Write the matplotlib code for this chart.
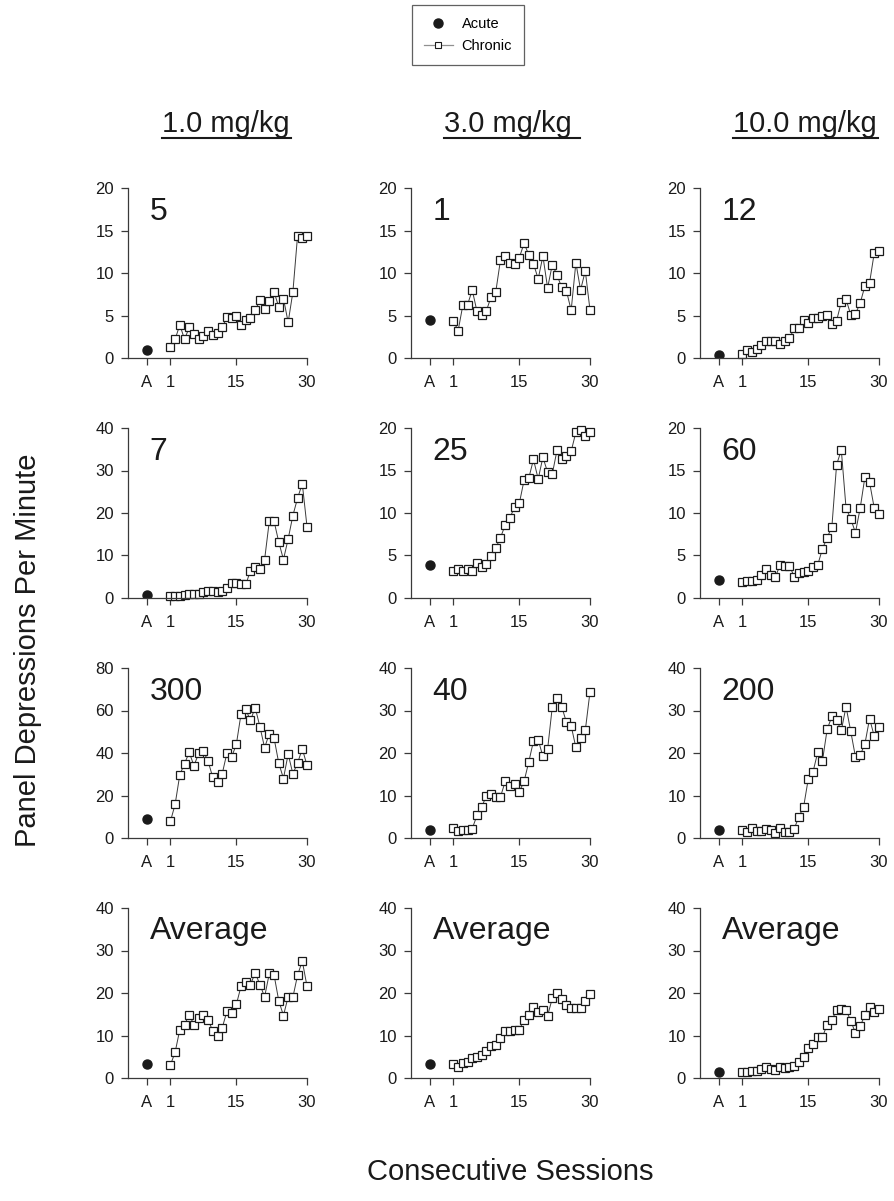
import numpy as np
import matplotlib.pyplot as plt
from matplotlib.lines import Line2D

plt.rcParams['font.family'] = ['Liberation Sans', 'DejaVu Sans']

# sessions and tick labels
sessions = np.arange(1, 31)
acute_pos = -4
tick_pos = [acute_pos, 1, 15, 30]
tick_labels = ['A', '1', '15', '30']

doses = ['1.0 mg/kg', '3.0 mg/kg', '10.0 mg/kg']
panel_names = [['5', '7', '300', 'Average'],
               ['1', '25', '40', 'Average'],
               ['12', '60', '200', 'Average']]

# acute values per dose column (rows top to bottom)
acute_1mg = [0.9, 0.7, 8.75, 3.3]
acute_3mg = [4.5, 3.85, 1.95, 3.4]
acute_10mg = [0.4, 2.15, 1.95, 1.5]

# chronic sessions 1-30, 1.0 mg/kg
chronic_s5 = [1.25, 2.2, 3.9, 2.2, 3.6, 2.85, 2.25, 2.6, 3.2, 2.65, 2.9, 3.6, 4.8, 4.7, 4.9,
              3.9, 4.5, 4.7, 5.6, 6.8, 5.8, 6.75, 7.8, 6.0, 7.0, 4.2, 7.75, 14.4, 14.1, 14.3]
chronic_s7 = [0.55, 0.4, 0.5, 0.7, 0.85, 0.85, 0.85, 1.4, 1.75, 1.6, 1.4, 1.75, 2.45, 3.55, 3.45,
              3.2, 3.2, 6.4, 7.4, 6.8, 9.05, 18.1, 18.1, 13.2, 9.05, 13.9, 19.4, 23.5, 26.9, 16.8]
chronic_s300 = [7.8, 15.8, 29.8, 35.0, 40.3, 34.0, 39.8, 40.9, 36.1, 28.5, 26.3, 30.2, 40.0, 38.1, 44.1,
                58.4, 60.5, 55.3, 61.4, 52.4, 42.5, 49.1, 47.1, 35.3, 28.0, 39.5, 30.2, 35.3, 42.0, 34.2]
chronic_avg1 = [3.05, 6.05, 11.4, 12.5, 14.9, 12.5, 14.1, 14.9, 13.6, 11.1, 10.0, 11.8, 15.7, 15.4, 17.3,
                21.6, 22.6, 22.0, 24.7, 22.0, 19.1, 24.6, 24.3, 18.2, 14.7, 19.1, 19.0, 24.2, 27.5, 21.6]

# chronic, 3.0 mg/kg
chronic_s1 = [4.4, 3.2, 6.2, 6.25, 8.0, 5.5, 5.1, 5.55, 7.2, 7.8, 11.55, 11.95, 11.2, 11.1, 11.8,
              13.5, 12.15, 11.1, 9.3, 12.0, 8.25, 11.0, 9.75, 8.3, 7.9, 5.6, 11.2, 8.0, 10.25, 5.65]
chronic_s25 = [3.15, 3.4, 3.2, 3.4, 3.2, 4.1, 3.6, 4.0, 4.9, 5.9, 7.1, 8.6, 9.45, 10.7, 11.15,
               13.85, 14.1, 16.3, 14.0, 16.55, 14.8, 14.6, 17.4, 16.3, 16.7, 17.25, 19.5, 19.8, 19.05, 19.5]
chronic_s40 = [2.25, 1.65, 1.9, 1.95, 2.2, 5.3, 7.2, 10.0, 10.4, 9.7, 9.7, 13.3, 12.3, 12.7, 10.9,
               13.3, 17.9, 22.8, 23.1, 19.2, 20.9, 30.9, 33.0, 30.9, 27.2, 26.4, 21.3, 23.5, 25.3, 34.4]
chronic_avg3 = [3.3, 2.7, 3.6, 3.85, 4.6, 5.0, 5.3, 6.4, 7.5, 7.75, 9.4, 11.1, 11.1, 11.4, 11.4,
                13.65, 14.75, 16.6, 15.5, 15.9, 14.7, 18.75, 20.1, 18.5, 17.2, 16.4, 16.5, 16.4, 18.1, 19.8]

# chronic, 10.0 mg/kg
chronic_s12 = [0.5, 1.0, 0.7, 1.1, 1.55, 1.95, 1.95, 2.05, 1.7, 2.0, 2.3, 3.5, 3.5, 4.45, 4.1,
               4.7, 4.7, 5.0, 5.05, 4.0, 4.4, 6.6, 6.9, 5.1, 5.2, 6.45, 8.45, 8.85, 12.4, 12.6]
chronic_s60 = [1.9, 1.95, 2.0, 2.15, 2.7, 3.4, 2.65, 2.5, 3.85, 3.8, 3.8, 2.5, 2.95, 3.0, 3.2,
               3.6, 3.9, 5.8, 7.1, 8.4, 15.7, 17.4, 10.6, 9.3, 7.7, 10.55, 14.2, 13.6, 10.55, 9.85]
chronic_s200 = [1.95, 1.3, 2.25, 1.55, 1.55, 2.1, 1.8, 1.1, 2.25, 1.3, 1.5, 2.2, 5.0, 7.35, 14.0,
                15.6, 20.2, 18.2, 25.6, 28.6, 27.7, 25.3, 30.9, 25.1, 19.1, 19.5, 22.1, 28.1, 23.9, 26.2]
chronic_avg10 = [1.5, 1.35, 1.65, 1.55, 2.1, 2.6, 2.2, 1.95, 2.5, 2.45, 2.5, 2.8, 3.85, 4.95, 7.15,
                 7.9, 9.65, 9.7, 12.55, 13.7, 15.9, 16.3, 16.1, 13.4, 10.65, 12.15, 14.8, 16.8, 15.6, 16.2]

# y axis ranges (max, step)
ylims = [[(20, 5), (40, 10), (80, 20), (40, 10)],
         [(20, 5), (20, 5), (40, 10), (40, 10)],
         [(20, 5), (20, 5), (40, 10), (40, 10)]]

acute = [acute_1mg, acute_3mg, acute_10mg]
chronic = [[chronic_s5, chronic_s7, chronic_s300, chronic_avg1],
           [chronic_s1, chronic_s25, chronic_s40, chronic_avg3],
           [chronic_s12, chronic_s60, chronic_s200, chronic_avg10]]

W, H = 895, 1201
fig = plt.figure(figsize=(W / 100, H / 100), dpi=100)

col_left = [128, 411, 700]
row_top = [188, 428, 668, 908]
ax_w, ax_h = 179, 170
ink = '#1a1a1a'
grey = '#3a3a3a'

for c in range(3):
    for r in range(4):
        ax = fig.add_axes([col_left[c] / W, 1 - (row_top[r] + ax_h) / H, ax_w / W, ax_h / H])
        ax.plot(sessions, chronic[c][r], '-', color=grey, lw=0.7,
                marker='s', ms=6.3, mfc='white', mec=ink, mew=0.9, clip_on=False)
        ax.plot([acute_pos], [acute[c][r]], 'o', color=ink, ms=6.5)
        ymax, step = ylims[c][r]
        ax.set_ylim(0, ymax)
        ax.set_yticks(np.arange(0, ymax + 1, step))
        ax.set_xlim(-8, 30)
        ax.set_xticks(tick_pos)
        ax.set_xticklabels(tick_labels)
        for s in ['top', 'right']:
            ax.spines[s].set_visible(False)
        for s in ['left', 'bottom']:
            ax.spines[s].set_color(grey)
            ax.spines[s].set_linewidth(0.9)
        ax.tick_params(axis='both', direction='out', length=5, width=0.9, color=grey,
                       labelsize=12, labelcolor=ink)
        ax.tick_params(axis='x', pad=7)
        ax.tick_params(axis='y', pad=5)
        ax.text(0.12, 0.95, panel_names[c][r], transform=ax.transAxes, fontsize=23,
                va='top', ha='left', color=ink)

# dose titles, underlined
renderer = fig.canvas.get_renderer()
title_x = [226, 508, 805]
for c in range(3):
    t = fig.text(title_x[c] / W, 1 - 132 / H, doses[c], fontsize=21, ha='center',
                 va='baseline', color=ink)
    bb = t.get_window_extent(renderer)
    x0 = bb.x0 / W
    x1 = (bb.x1 + (8 if c == 1 else 1)) / W
    fig.add_artist(Line2D([x0, x1], [1 - 138 / H, 1 - 138 / H], color=ink, lw=1.5,
                          transform=fig.transFigure))

# axis labels
fig.text(28 / W, 1 - 650 / H, 'Panel Depressions Per Minute', rotation=90, fontsize=21,
         ha='center', va='center', color=ink)
fig.text(510 / W, 1 - 1172 / H, 'Consecutive Sessions', fontsize=21, ha='center',
         va='center', color=ink)

# legend
handles = [Line2D([], [], ls='none', marker='o', color=ink, ms=6.5),
           Line2D([], [], color='#909090', lw=0.9, marker='s', ms=5, mfc='white', mec=ink, mew=0.8)]
leg = fig.legend(handles, ['Acute', 'Chronic'], loc='upper center',
                 bbox_to_anchor=(468 / W, 1 - 5 / H), borderaxespad=0, fontsize=10.5,
                 frameon=True, fancybox=False, edgecolor=grey, handlelength=2.0,
                 borderpad=0.8, labelspacing=0.6, handletextpad=0.6)
leg.get_frame().set_linewidth(0.9)

fig.savefig('out.png', dpi=100)
